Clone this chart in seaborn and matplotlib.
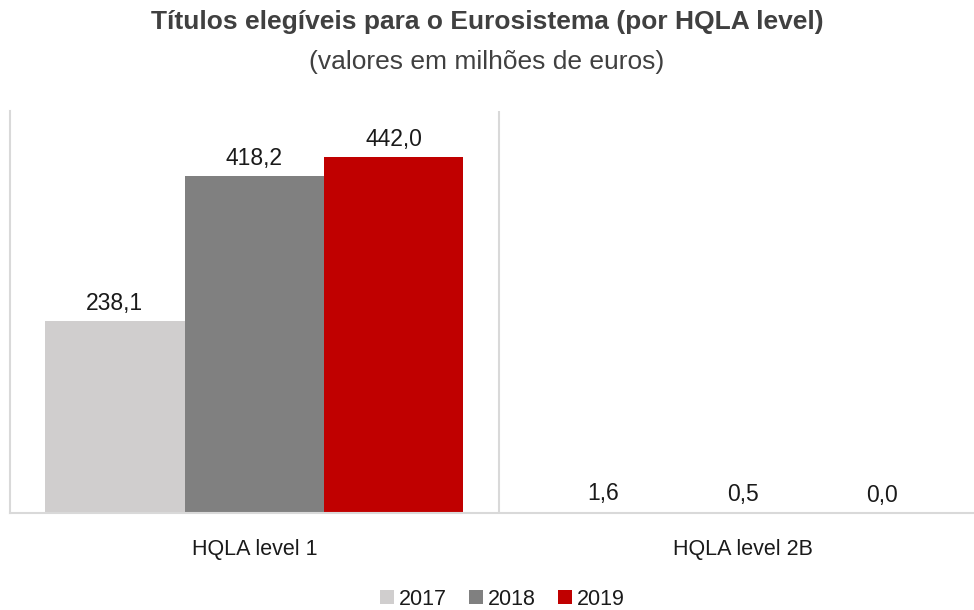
import matplotlib
matplotlib.use("Agg")
import matplotlib.pyplot as plt
import pandas as pd
import seaborn as sns

# ── Data ──────────────────────────────────────────────────────────────────────
CATEGORIES = ["HQLA level 1", "HQLA level 2B"]
YEARS = ["2017", "2018", "2019"]
V2017 = [238.1, 1.6]
V2018 = [418.2, 0.5]
V2019 = [442.0, 0.0]
COLORS = ["#D0CECE", "#808080", "#C00000"]

df = pd.DataFrame({
    "categoria": CATEGORIES * 3,
    "ano": [y for y in YEARS for _ in CATEGORIES],
    "valor": V2017 + V2018 + V2019,
})

sns.set_theme(style="white")
plt.rcParams["font.family"] = ["Liberation Sans", "DejaVu Sans"]

fig = plt.figure(figsize=(9.74, 6.1), dpi=100)
# plot area runs a little past the right edge (the source is cropped there)
ax = fig.add_axes([10 / 974, 1 - 513 / 610, 977 / 974, 402 / 610])

sns.barplot(data=df, x="categoria", y="valor", hue="ano", palette=COLORS,
            width=0.856, saturation=1, linewidth=0, ax=ax, legend=True)

ax.set_ylim(0, 499)
ax.set_xlim(-0.5, 1.5)
ax.set_xlabel("")
ax.set_ylabel("")
ax.set_yticks([])
ax.tick_params(axis="x", length=0, labelsize=15.5, pad=19, labelcolor="#1a1a1a")

ax.spines["top"].set_visible(False)
ax.spines["right"].set_visible(False)
for s in ["left", "bottom"]:
    ax.spines[s].set_color("#D9D9D9")
    ax.spines[s].set_linewidth(1.5)
ax.axvline(0.5, color="#D9D9D9", lw=1.5)

# value labels with comma decimal
for cont in ax.containers:
    labels = [f"{v:.1f}".replace(".", ",") for v in cont.datavalues]
    ax.bar_label(cont, labels=labels, padding=4.5, fontsize=16.5, color="#1a1a1a")

ax.legend(loc="center", bbox_to_anchor=(0.504, -0.214), ncol=3,
          frameon=False, fontsize=15.5, handlelength=0.65, handleheight=0.65,
          handletextpad=0.25, columnspacing=1.0, labelcolor="#1a1a1a")

fig.text(0.5, 1 - 22 / 610, "Títulos elegíveis para o Eurosistema (por HQLA level)",
         ha="center", va="center", fontsize=19, fontweight="bold", color="#404040")
fig.text(0.5, 1 - 62 / 610, "(valores em milhões de euros)",
         ha="center", va="center", fontsize=19, color="#404040")

fig.savefig("out.png", dpi=100)
